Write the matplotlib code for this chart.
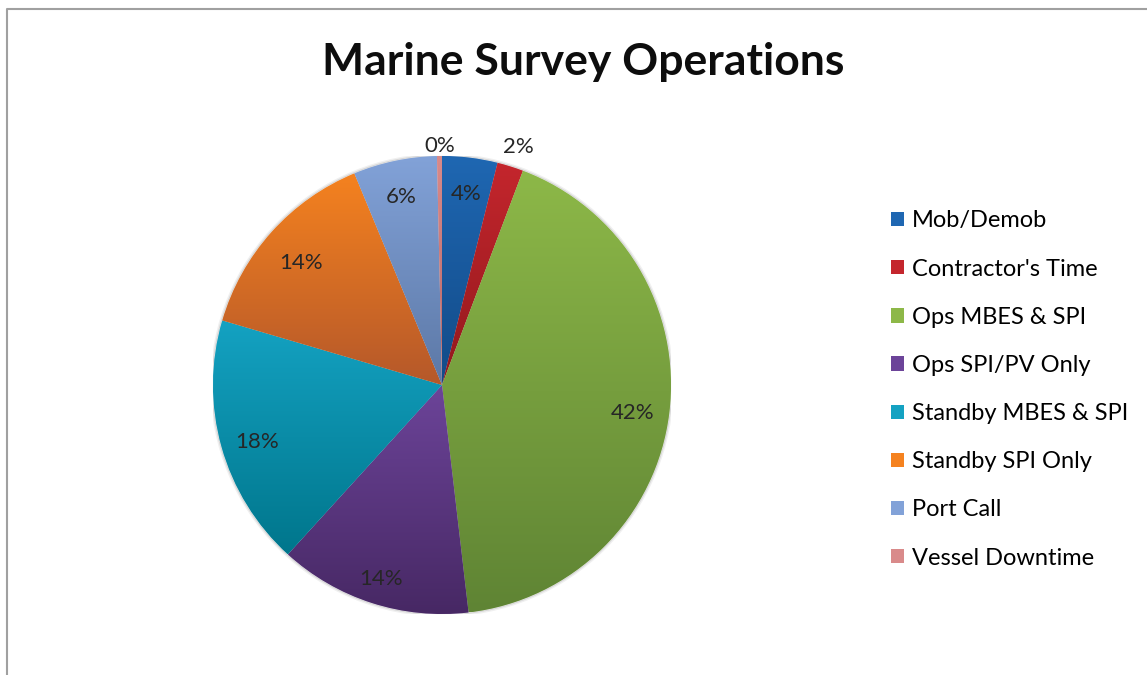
# Pie chart of marine survey time split by operation type

import numpy as np
import matplotlib.pyplot as plt
from matplotlib.colors import LinearSegmentedColormap
from matplotlib.lines import Line2D
from matplotlib.patches import Patch

plt.rcParams['font.family'] = ['Lato', 'DejaVu Sans']

categories = ['Mob/Demob', "Contractor's Time", 'Ops MBES & SPI', 'Ops SPI/PV Only',
              'Standby MBES & SPI', 'Standby SPI Only', 'Port Call', 'Vessel Downtime']
shares = [3.9, 1.85, 42.4, 13.6, 17.8, 14.2, 5.9, 0.35]

# top / bottom colours of each slice gradient
top_colors = ['#1f67b2', '#c4262d', '#8db848', '#6c4499', '#14a2c2', '#f5821f', '#82a2d8', '#d98a8a']
bottom_colors = ['#124b88', '#92191d', '#5f8434', '#472864', '#00768c', '#b5582a', '#5c78a6', '#b86666']

# where the percent labels sit, as a fraction of the radius
label_radius = [0.86, 1.11, 0.84, 0.87, 0.84, 0.83, 0.86, 1.065]

fig = plt.figure(figsize=(11.47, 6.75), dpi=100)
W, H = 1147, 675
cx, cy, R = 442, 385, 229
ax = fig.add_axes([(cx - R) / W, (H - cy - R) / H, 2 * R / W, 2 * R / H])

wedges, _ = ax.pie(shares, startangle=90, counterclock=False, radius=1,
                   colors=top_colors, wedgeprops=dict(linewidth=0.4, edgecolor='#f0f0f0'))

# soft shadow round the pie
for k, a in zip([1.012, 1.006], [0.06, 0.10]):
    ax.add_patch(plt.Circle((0, 0.0), k, color='black', alpha=a, zorder=0, lw=0))

grad = np.linspace(0, 1, 256).reshape(-1, 1)
for w, c1, c2 in zip(wedges, top_colors, bottom_colors):
    bb = w.get_path().get_extents()
    cmap = LinearSegmentedColormap.from_list('g', [c1, c2])
    im = ax.imshow(grad, cmap=cmap, aspect='auto', origin='upper',
                   extent=(bb.x0, bb.x1, bb.y0, bb.y1), zorder=w.get_zorder() + 0.1)
    im.set_clip_path(w)

for w, v, r in zip(wedges, shares, label_radius):
    ang = np.deg2rad((w.theta1 + w.theta2) / 2)
    ax.text(r * np.cos(ang), r * np.sin(ang) - 0.02, '{:.0f}%'.format(v), ha='center', va='center',
            fontsize=16, color='#262626', zorder=5)

ax.set_xlim(-1, 1)
ax.set_ylim(-1, 1)
ax.set_aspect('equal')
ax.axis('off')

fig.text(583 / W, 1 - 62 / H, 'Marine Survey Operations', ha='center', va='center',
         fontsize=32, fontweight='bold', color='#0d0d0d')

handles = [Patch(facecolor=c, edgecolor='none') for c in top_colors]
fig.legend(handles, categories, loc='upper left', bbox_to_anchor=(882 / W, 1 - 201 / H),
           frameon=False, fontsize=17, handlelength=0.55, handleheight=0.55,
           handletextpad=0.3, labelspacing=1.15, borderaxespad=0)

# chart frame, only its left and top edges fall inside the image
fig.add_artist(Line2D([7.5 / W, 7.5 / W, 1], [0, 1 - 9 / H, 1 - 9 / H],
                      transform=fig.transFigure, color='#a0a0a0', lw=1.5))

fig.savefig('out.png', dpi=100)
